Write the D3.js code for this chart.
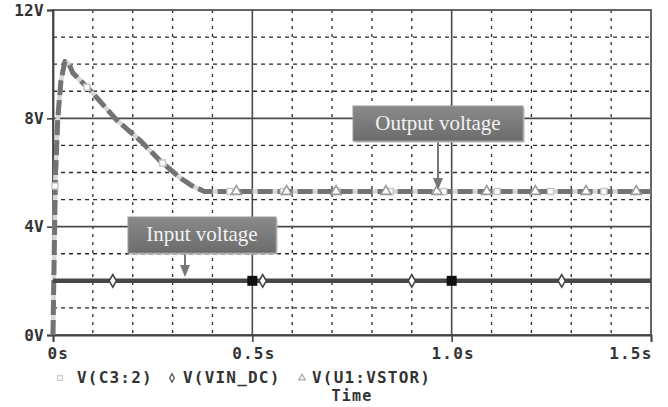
<!DOCTYPE html>
<html><head><meta charset="utf-8">
<script src="https://cdn.jsdelivr.net/npm/d3@7"></script>
<style>
html,body{margin:0;padding:0;background:#fff;}
svg{display:block;}
.mono{font-family:"DejaVu Sans Mono",monospace;font-weight:bold;fill:#333;}
</style></head>
<body>
<svg id="chart" width="668" height="407"></svg>
<script>
// ---- data ----
const outTime = [0, 0.003, 0.006, 0.012, 0.02, 0.03, 0.04, 0.05, 0.093, 0.16, 0.218, 0.268, 0.319, 0.35, 0.38, 0.41, 1.5];
const outVolt = [0, 3.0, 5.8, 8.0, 9.4, 10.1, 10.0, 9.67, 9.04, 7.93, 7.19, 6.44, 5.8, 5.5, 5.3, 5.3, 5.3];
const inTime = [0, 1.5];
const inVolt = [2, 2];
const c3MarkT = [0.005, 0.085, 0.275, 0.444, 0.578, 0.712, 0.846, 0.98, 1.114, 1.248, 1.382];
const c3MarkV = [5.5, 9.15, 6.35, 5.3, 5.3, 5.3, 5.3, 5.3, 5.3, 5.3, 5.3];
const vstorMarkT = [0.46, 0.586, 0.71, 0.835, 0.963, 1.088, 1.21, 1.337, 1.463];
const vstorMarkV = [5.3, 5.3, 5.3, 5.3, 5.3, 5.3, 5.3, 5.3, 5.3];
const vinMarkT = [0.15, 0.526, 0.9, 1.276];
const vinMarkV = [2, 2, 2, 2];
const cursorT = [0.5, 1.0];
const cursorV = [2, 2];
const xTicks = [0, 0.5, 1.0, 1.5];
const xTickLabels = ["0s", "0.5s", "1.0s", "1.5s"];
const yTicks = [0, 4, 8, 12];
const yTickLabels = ["0V", "4V", "8V", "12V"];
const legendNames = ["V(C3:2)", "V(VIN_DC)", "V(U1:VSTOR)"];
const annotations = [
  {text: "Output voltage", t: 0.965, v: 5.3},
  {text: "Input voltage", t: 0.33, v: 2}
];

// ---- layout ----
const L = 53, R = 651, T = 10, B = 335;
const svg = d3.select("#chart");
const x = d3.scaleLinear().domain([0, 1.5]).range([L, R]);
const y = d3.scaleLinear().domain([0, 12]).range([B, T]);

// minor dotted grid
const g = svg.append("g");
g.selectAll(".vx").data(d3.range(1, 15).map(i => i / 10).filter(v => Math.abs(v - 0.5) > 1e-6 && Math.abs(v - 1.0) > 1e-6))
  .join("line").attr("x1", d => x(d)).attr("x2", d => x(d)).attr("y1", T).attr("y2", B)
  .attr("stroke", "#2a2a2a").attr("stroke-width", 1.3).attr("stroke-dasharray", "3,5");
g.selectAll(".hy").data(d3.range(1, 12).filter(v => v % 4 !== 0))
  .join("line").attr("x1", L).attr("x2", R).attr("y1", d => y(d)).attr("y2", d => y(d))
  .attr("stroke", "#2a2a2a").attr("stroke-width", 1.3).attr("stroke-dasharray", "4,4");
// major solid grid
g.selectAll(".mx").data([0.5, 1.0]).join("line")
  .attr("x1", d => x(d)).attr("x2", d => x(d)).attr("y1", T).attr("y2", B)
  .attr("stroke", "#4a4a4a").attr("stroke-width", 1.6);
g.selectAll(".my").data([4, 8]).join("line")
  .attr("x1", L).attr("x2", R).attr("y1", d => y(d)).attr("y2", d => y(d))
  .attr("stroke", "#4a4a4a").attr("stroke-width", 1.6);
// frame
svg.append("rect").attr("x", L).attr("y", T).attr("width", R - L).attr("height", B - T)
  .attr("fill", "none").attr("stroke", "#555").attr("stroke-width", 1.8);

// axes
const xAxis = d3.axisBottom(x).tickValues(xTicks).tickSize(7).tickFormat((d, i) => xTickLabels[i]);
const xa = svg.append("g").attr("transform", `translate(0,${B})`).call(xAxis);
xa.select(".domain").attr("stroke", "#444").attr("stroke-width", 1.8);
xa.selectAll(".tick line").attr("stroke", "#444").attr("stroke-width", 1.6);
xa.selectAll(".tick text").attr("class", "mono").attr("font-size", 16).attr("letter-spacing", 1.2)
  .attr("y", 13).attr("dy", "0.71em").attr("fill", "#333")
  .attr("text-anchor", (d, i) => i === 0 ? "start" : (i === xTicks.length - 1 ? "end" : "middle"))
  .attr("dx", (d, i) => i === 0 ? -6 : 1);
const yAxis = d3.axisLeft(y).tickValues(yTicks).tickSize(6).tickFormat((d, i) => yTickLabels[i]);
const ya = svg.append("g").attr("transform", `translate(${L},0)`).call(yAxis);
ya.select(".domain").attr("stroke", "#444").attr("stroke-width", 1.8);
ya.selectAll(".tick line").attr("stroke", "#444").attr("stroke-width", 1.6);
ya.selectAll(".tick text").attr("class", "mono").attr("font-size", 16).attr("letter-spacing", 0.3)
  .attr("x", -9).attr("fill", "#333");

// lines
const outData = outTime.map((t, i) => [t, outVolt[i]]);
const inData = inTime.map((t, i) => [t, inVolt[i]]);
const line = d3.line().x(d => x(d[0])).y(d => y(d[1]));
svg.append("path").attr("d", line(outData)).attr("fill", "none")
  .attr("stroke", "#d6d6d6").attr("stroke-width", 4.5).attr("stroke-linejoin", "round");
svg.append("path").attr("d", line(outData)).attr("fill", "none")
  .attr("stroke", "#737373").attr("stroke-width", 5).attr("stroke-dasharray", "15,5")
  .attr("stroke-linejoin", "round");
svg.append("path").attr("d", line(inData)).attr("fill", "none")
  .attr("stroke", "#474747").attr("stroke-width", 4.5);

// markers
const sym = (type, size) => d3.symbol().type(type).size(size)();
svg.selectAll(".c3m").data(c3MarkT.map((t, i) => [t, c3MarkV[i]])).join("path")
  .attr("transform", d => `translate(${x(d[0])},${y(d[1])})`)
  .attr("d", sym(d3.symbolSquare, 36)).attr("fill", "#fff").attr("stroke", "#c8c8c8").attr("stroke-width", 1.5);
svg.selectAll(".vsm").data(vstorMarkT.map((t, i) => [t, vstorMarkV[i]])).join("path")
  .attr("transform", d => `translate(${x(d[0])},${y(d[1])})`)
  .attr("d", sym(d3.symbolTriangle, 45)).attr("fill", "#fff").attr("stroke", "#9a9a9a").attr("stroke-width", 1.6);
svg.selectAll(".vim").data(vinMarkT.map((t, i) => [t, vinMarkV[i]])).join("path")
  .attr("transform", d => `translate(${x(d[0])},${y(d[1])})`)
  .attr("d", sym(d3.symbolDiamond, 45)).attr("fill", "#fff").attr("stroke", "#444").attr("stroke-width", 1.6);
svg.selectAll(".cur").data(cursorT.map((t, i) => [t, cursorV[i]])).join("rect")
  .attr("x", d => x(d[0]) - 5).attr("y", d => y(d[1]) - 5).attr("width", 10).attr("height", 10)
  .attr("fill", "#111");

// annotations
const defs = svg.append("defs");
const grad = defs.append("linearGradient").attr("id", "boxg").attr("x1", 0).attr("x2", 0).attr("y1", 0).attr("y2", 1);
grad.append("stop").attr("offset", "0%").attr("stop-color", "#8a8a8a");
grad.append("stop").attr("offset", "100%").attr("stop-color", "#6c6c6c");
const boxes = [
  {x0: 353, x1: 523, y0: 106, y1: 141, tipY: 190, ax: 438, ty: 130},
  {x0: 128, x1: 276, y0: 217, y1: 253, tipY: 277, ax: 185, ty: 241}
];
annotations.forEach((a, i) => {
  const b = boxes[i];
  const tipX = b.ax;
  svg.append("line").attr("x1", tipX).attr("x2", tipX).attr("y1", b.y1).attr("y2", b.tipY - 10)
    .attr("stroke", "#777").attr("stroke-width", 2);
  svg.append("path").attr("d", `M${tipX - 5},${b.tipY - 12}L${tipX + 5},${b.tipY - 12}L${tipX},${b.tipY}Z`)
    .attr("fill", "#777");
  svg.append("rect").attr("x", b.x0 + 1.5).attr("y", b.y0 + 1.5).attr("width", b.x1 - b.x0).attr("height", b.y1 - b.y0)
    .attr("fill", "#bbb");
  svg.append("rect").attr("x", b.x0).attr("y", b.y0).attr("width", b.x1 - b.x0).attr("height", b.y1 - b.y0)
    .attr("fill", "url(#boxg)").attr("stroke", "#9a9a9a").attr("stroke-width", 1);
  svg.append("text").attr("x", (b.x0 + b.x1) / 2).attr("y", b.ty).attr("text-anchor", "middle")
    .attr("font-family", "'Liberation Serif','Times New Roman',serif").attr("font-size", 21)
    .attr("fill", "#f2f2f2").text(a.text);
});

// legend
const lg = svg.append("g");
const legItems = [
  {mx: 60, tx: 77, type: d3.symbolSquare, size: 22, stroke: "#ccc"},
  {mx: 172, tx: 183, type: d3.symbolDiamond, size: 20, stroke: "#555"},
  {mx: 302, tx: 312, type: d3.symbolTriangle, size: 18, stroke: "#aaa"}
];
legItems.forEach((it, i) => {
  lg.append("path").attr("transform", `translate(${it.mx},378)`).attr("d", sym(it.type, it.size))
    .attr("fill", "#fff").attr("stroke", it.stroke).attr("stroke-width", 1.3);
  lg.append("text").attr("class", "mono").attr("x", it.tx).attr("y", 383).attr("font-size", 16)
    .attr("letter-spacing", 1.2).text(legendNames[i]);
});
lg.append("text").attr("class", "mono").attr("x", 352).attr("y", 401).attr("text-anchor", "middle")
  .attr("font-size", 15).attr("letter-spacing", 1.2).text("Time");
</script>
</body></html>
